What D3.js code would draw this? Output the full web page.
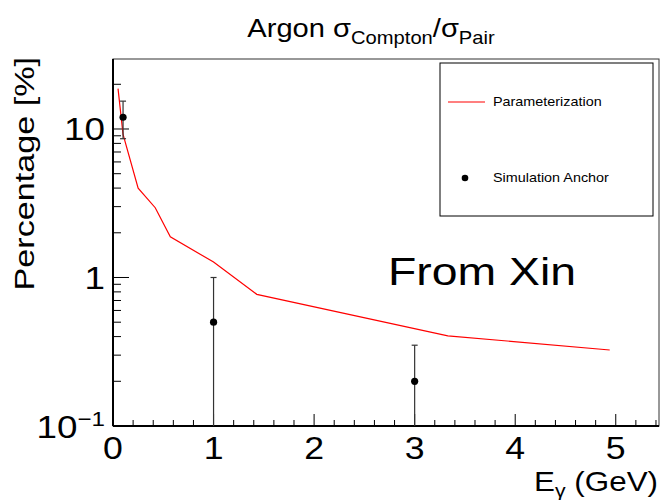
<!DOCTYPE html>
<html>
<head>
<meta charset="utf-8">
<script src="https://cdn.jsdelivr.net/npm/d3@7"></script>
<style>
  body { margin: 0; background: #fff; }
  text { font-family: "Liberation Sans", Arial, sans-serif; fill: #000; }
</style>
</head>
<body>
<div id="chart"></div>
<script>
// parameterization curve (energy in GeV, ratio in %)
const paramE = [0.05, 0.10, 0.25, 0.42, 0.57, 1.00, 1.43, 3.33, 4.94];
const paramPct = [18.7, 9.2, 4.0, 2.95, 1.88, 1.27, 0.77, 0.405, 0.325];

// simulation anchor points with symmetric errors
const anchorE = [0.1, 1.0, 3.0];
const anchorPct = [12.0, 0.5, 0.2];
const anchorErr = [3.4, 0.5, 0.15];

const xTicks = [0, 1, 2, 3, 4, 5];
const yMajor = [0.1, 1, 10];

const width = 661, height = 500;
const frame = {left: 113, right: 659, top: 59, bottom: 426};
// the original glyphs are wider than Liberation Sans for their height
const sx = 1.22;

const svg = d3.select('#chart').append('svg')
  .attr('width', width)
  .attr('height', height);

function place(px, py, s = sx) {
  return 'translate(' + px + ',' + py + ') scale(' + s + ',1)';
}

const x = d3.scaleLinear().domain([0, 5.43]).range([frame.left, frame.right]);
const y = d3.scaleLog().domain([0.1, 29.6]).range([frame.bottom, frame.top]);

// frame
svg.append('rect')
  .attr('x', frame.left).attr('y', frame.top)
  .attr('width', frame.right - frame.left).attr('height', frame.bottom - frame.top)
  .attr('fill', 'none').attr('stroke', '#333').attr('stroke-width', 1);

// x axis: inward ticks, major at integers, minor every 0.2
const xMinor = d3.range(0, 5.43, 0.2).filter(v => Math.abs(v - Math.round(v)) > 1e-6);
const xAxis = svg.append('g').attr('transform', 'translate(0,' + frame.bottom + ')');
xAxis.selectAll('line.minor').data(xMinor).join('line')
  .attr('x1', d => x(d)).attr('x2', d => x(d))
  .attr('y1', 0).attr('y2', -6)
  .attr('stroke', '#000');
xAxis.selectAll('line.major').data(xTicks).join('line')
  .attr('x1', d => x(d)).attr('x2', d => x(d))
  .attr('y1', 0).attr('y2', -12)
  .attr('stroke', '#000');
xAxis.selectAll('text').data(xTicks).join('text')
  .attr('transform', d => place(x(d), 33, 1.15))
  .attr('text-anchor', 'middle')
  .attr('font-size', 31)
  .text(d => d);
xAxis.append('line')
  .attr('x1', frame.left).attr('x2', frame.right)
  .attr('stroke', '#000').attr('stroke-width', 2);

// y axis: log, inward ticks
const yMinor = [];
[0.1, 1, 10].forEach(dec => {
  for (let k = 2; k <= 9; k++) {
    const v = dec * k;
    if (v < y.domain()[1]) yMinor.push(v);
  }
});
const yAxis = svg.append('g').attr('transform', 'translate(' + frame.left + ',0)');
yAxis.selectAll('line.minor').data(yMinor).join('line')
  .attr('y1', d => y(d)).attr('y2', d => y(d))
  .attr('x1', 0).attr('x2', 8)
  .attr('stroke', '#000');
yAxis.selectAll('line.major').data(yMajor).join('line')
  .attr('y1', d => y(d)).attr('y2', d => y(d))
  .attr('x1', 0).attr('x2', 16)
  .attr('stroke', '#000');
yAxis.append('line')
  .attr('y1', frame.top).attr('y2', frame.bottom)
  .attr('stroke', '#000').attr('stroke-width', 2);

const yLab = yAxis.selectAll('text').data(yMajor).join('text')
  .attr('transform', d => place(-8, y(d) + 11.5, 1.15))
  .attr('text-anchor', 'end')
  .attr('font-size', 32);
yLab.each(function(d) {
  const t = d3.select(this);
  if (d < 1) {
    t.append('tspan').text('10');
    t.append('tspan').attr('font-size', 21).attr('dy', -12).text('\u22121');
  } else {
    t.text(d);
  }
});

// parameterization line
const line = d3.line()
  .x((d, i) => x(paramE[i]))
  .y((d, i) => y(paramPct[i]));
svg.append('path')
  .datum(paramE)
  .attr('d', line)
  .attr('fill', 'none')
  .attr('stroke', '#ff0000')
  .attr('stroke-width', 1.2);

// anchor points with error bars
const anchors = anchorE.map((e, i) => ({e, v: anchorPct[i], err: anchorErr[i]}));
const lo = d => Math.max(d.v - d.err, y.domain()[0]);
const eb = svg.append('g').attr('stroke', '#333').attr('stroke-width', 1.2);
eb.selectAll('line.bar').data(anchors).join('line')
  .attr('x1', d => x(d.e)).attr('x2', d => x(d.e))
  .attr('y1', d => y(lo(d))).attr('y2', d => y(d.v + d.err));
eb.selectAll('line.capTop').data(anchors).join('line')
  .attr('x1', d => x(d.e) - 3).attr('x2', d => x(d.e) + 3)
  .attr('y1', d => y(d.v + d.err)).attr('y2', d => y(d.v + d.err));
eb.selectAll('line.capBot').data(anchors.filter(d => d.v - d.err > y.domain()[0])).join('line')
  .attr('x1', d => x(d.e) - 3).attr('x2', d => x(d.e) + 3)
  .attr('y1', d => y(d.v - d.err)).attr('y2', d => y(d.v - d.err));
svg.selectAll('circle.anchor').data(anchors).join('circle')
  .attr('cx', d => x(d.e)).attr('cy', d => y(d.v))
  .attr('r', 3.6).attr('fill', '#000');

// legend
const leg = svg.append('g');
leg.append('rect')
  .attr('x', 440).attr('y', 63).attr('width', 213).attr('height', 153)
  .attr('fill', '#fff').attr('stroke', '#000').attr('stroke-width', 1);
leg.append('line')
  .attr('x1', 448).attr('x2', 485).attr('y1', 102).attr('y2', 102)
  .attr('stroke', '#ff0000').attr('stroke-width', 1.2);
leg.append('text').attr('transform', place(493, 106, 1.15)).attr('font-size', 12.5).text('Parameterization');
leg.append('circle').attr('cx', 465).attr('cy', 178).attr('r', 3.3).attr('fill', '#000');
leg.append('text').attr('transform', place(493, 182, 1.15)).attr('font-size', 12.5).text('Simulation Anchor');

// title
const title = svg.append('text')
  .attr('transform', place(371, 37, 1.12))
  .attr('text-anchor', 'middle')
  .attr('font-size', 26);
title.append('tspan').text('Argon \u03c3');
title.append('tspan').attr('font-size', 18).attr('dy', 7).text('Compton');
title.append('tspan').attr('dy', -7).text('/\u03c3');
title.append('tspan').attr('font-size', 18).attr('dy', 7).text('Pair');

// axis titles (y title stretched along its own direction)
svg.append('text')
  .attr('transform', 'translate(34,57) rotate(-90) scale(' + sx + ',1)')
  .attr('text-anchor', 'end')
  .attr('font-size', 28)
  .text('Percentage [%]');

const xt = svg.append('text')
  .attr('transform', place(658, 491, 1.12))
  .attr('text-anchor', 'end')
  .attr('font-size', 28);
xt.append('tspan').text('E');
xt.append('tspan').attr('font-size', 19).attr('dy', 6).text('\u03b3');
xt.append('tspan').attr('dy', -6).text(' (GeV)');

// annotation
svg.append('text')
  .attr('transform', place(388, 285))
  .attr('font-size', 38)
  .text('From Xin');
</script>
</body>
</html>
